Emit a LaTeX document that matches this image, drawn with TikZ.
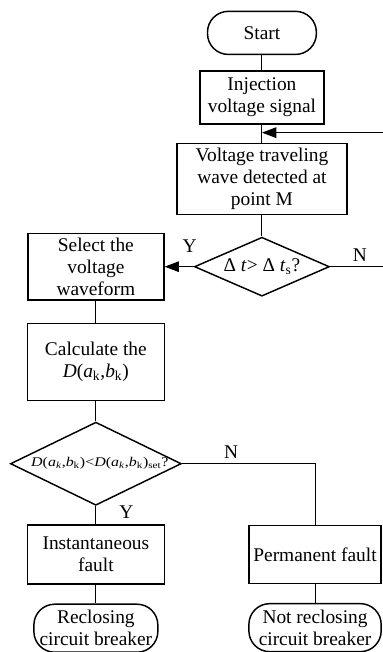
\documentclass[tikz,border=0pt]{standalone}
\usepackage{fontspec}
\setmainfont{Liberation Serif}
\newfontfamily\widefont[FakeStretch=1.2]{Liberation Serif}
\usetikzlibrary{arrows.meta,positioning,shapes.geometric,calc}

\begin{document}
\begin{tikzpicture}[
    font=\fontsize{14.6}{16.5}\selectfont,
    box/.style={rectangle, draw, line width=1.1pt, inner sep=0pt, align=center},
    term/.style={rectangle, draw, line width=1.1pt, rounded corners=0.55cm, inner sep=0pt, align=center},
    dec/.style={diamond, draw, line width=1.1pt, inner sep=0pt},
    link/.style={line width=0.8pt},
    arrow/.style={-{Triangle[length=3.8mm, width=2.8mm]}, line width=0.8pt}
]
\useasboundingbox (0,0) rectangle (10.11,-17.25);

% Detection column
\node[term, minimum width=2.88cm, minimum height=1.14cm] (start) at (6.93,-0.87) {Start};
\node[box, minimum width=3.28cm, minimum height=1.40cm, below=0.40cm of start] (inj) {Injection\\voltage signal};
\node[box, minimum width=4.50cm, minimum height=1.88cm, below=0.48cm of inj] (volt) {Voltage traveling\\wave detected at\\point M};
\node[dec, minimum width=3.57cm, minimum height=1.56cm, below=0.56cm of volt,
    label={center:Δ \textit{t}> Δ \textit{t}\textsubscript{s}?}] (dec1) {};

% Identification column
\node[box, minimum width=3.60cm, minimum height=1.77cm, left=0.77cm of dec1] (sel) {Select the\\voltage\\waveform};
\node[box, minimum width=3.62cm, minimum height=2.04cm, below=0.58cm of sel] (calc) {Calculate the\\\textit{D}(\textit{a}\textsubscript{k},\textit{b}\textsubscript{k})};
\node[dec, minimum width=4.52cm, minimum height=2.20cm, below=0.53cm of calc,
    label={[xshift=3pt]center:{\widefont\fontsize{10}{12}\selectfont\textit{D}(\textit{a}\textsubscript{\textit{k}},\textit{b}\textsubscript{k})<\textit{D}(\textit{a}\textsubscript{\textit{k}},\textit{b}\textsubscript{k})\textsubscript{set}?}}] (dec2) {};
\node[box, minimum width=3.62cm, minimum height=1.56cm, below=0.48cm of dec2] (inst) {Instantaneous\\fault};
\node[term, minimum width=3.28cm, minimum height=1.27cm, below=0.50cm of inst] (recl) {Reclosing\\circuit breaker};

% Permanent branch
\node[box, minimum width=3.50cm, minimum height=1.53cm, right=2.2cm of inst] (perm) {Permanent fault};
\node[term, minimum width=3.50cm, minimum height=1.27cm, below=0.50cm of perm] (notrecl) {Not reclosing\\circuit breaker};

% Loop back point
\coordinate (fb) at ($(inj.south)!0.44!(volt.north)$);
\coordinate (redge) at (10.25,0);

% Connectors
\draw[link] (start) -- (inj);
\draw[link] (inj) -- (volt);
\draw[link] (volt) -- (dec1);
\draw[arrow] (dec1.east) -- node[pos=0.52, above]{N} (dec1.east -| redge) |- (fb);
\draw[arrow] (dec1) -- node[pos=0.14, above=7pt]{Y} (sel);
\draw[link] (sel) -- (calc);
\draw[link] (calc) -- (dec2);
\draw[link] (dec2) -- node[pos=0.33, right=14pt]{Y} (inst);
\draw[link] (inst) -- (recl);
\draw[link] (dec2.east) -- node[pos=0.37, above]{N} (dec2.east -| perm.north) -- (perm.north);
\draw[link] (perm) -- (notrecl);
\end{tikzpicture}
\end{document}
